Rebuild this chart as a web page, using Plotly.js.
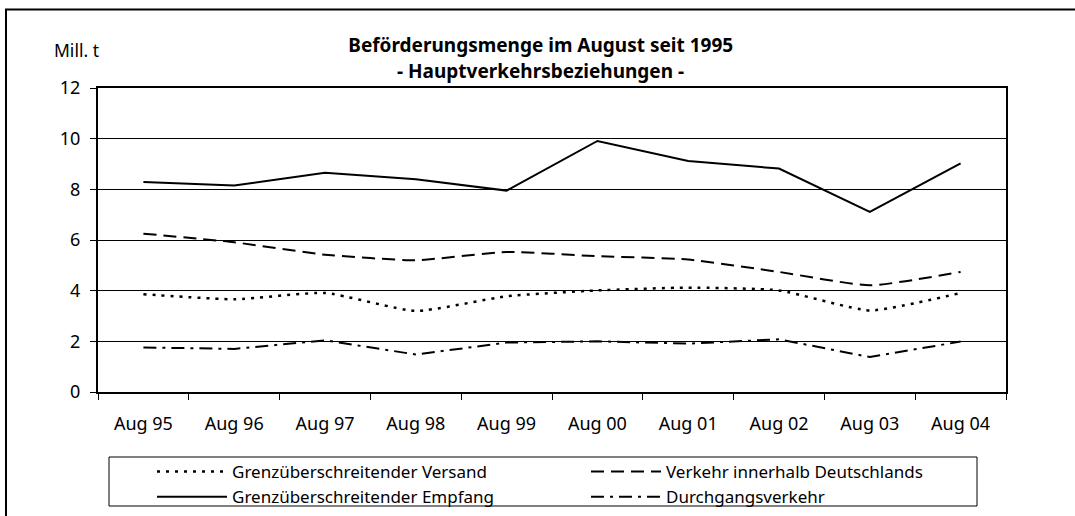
<!DOCTYPE html>
<html>
<head>
<meta charset="utf-8">
<script src="https://cdn.plot.ly/plotly-3.0.1.min.js"></script>
<style>html,body{margin:0;padding:0;background:#fff;}#chart{width:1075px;height:516px;}</style>
</head>
<body>
<div id="chart"></div>
<script>
var categories = ["Aug 95","Aug 96","Aug 97","Aug 98","Aug 99","Aug 00","Aug 01","Aug 02","Aug 03","Aug 04"];
var versand = [3.86, 3.66, 3.91, 3.20, 3.78, 4.01, 4.12, 4.01, 3.22, 3.91];
var innerhalb = [6.25, 5.91, 5.42, 5.20, 5.53, 5.36, 5.23, 4.74, 4.21, 4.74];
var empfang = [8.29, 8.15, 8.65, 8.40, 7.95, 9.91, 9.12, 8.82, 7.11, 9.02];
var durchgang = [1.76, 1.70, 2.04, 1.48, 1.95, 2.00, 1.91, 2.08, 1.38, 1.99];
var seriesNames = ["Grenzüberschreitender Versand","Verkehr innerhalb Deutschlands","Grenzüberschreitender Empfang","Durchgangsverkehr"];
var yTicks = [0, 2, 4, 6, 8, 10, 12];

var FONT = "Noto Sans, Open Sans, sans-serif";

var traces = [
  {x: categories, y: versand, name: seriesNames[0], type: "scatter", mode: "lines",
   line: {color: "#000", width: 2.5, dash: "3px,6px", shape: "spline", smoothing: 0.5}},
  {x: categories, y: innerhalb, name: seriesNames[1], type: "scatter", mode: "lines",
   line: {color: "#000", width: 2, dash: "13px,7px", shape: "spline", smoothing: 0.5}},
  {x: categories, y: empfang, name: seriesNames[2], type: "scatter", mode: "lines",
   line: {color: "#000", width: 2}},
  {x: categories, y: durchgang, name: seriesNames[3], type: "scatter", mode: "lines",
   line: {color: "#000", width: 2, dash: "13px,6px,3px,6px"}}
];

var layout = {
  width: 1075, height: 516,
  paper_bgcolor: "#fff", plot_bgcolor: "#fff",
  margin: {l: 98, r: 69, t: 88, b: 124, autoexpand: false},
  font: {family: FONT, size: 17, color: "#000"},
  title: {text: "<b>Beförderungsmenge im August seit 1995</b>", font: {family: FONT, size: 19, color: "#000"},
          x: 0.503, xref: "container", xanchor: "center", y: 1 - 45/516, yref: "container", yanchor: "middle"},
  xaxis: {type: "category", range: [-0.5, 9.5], tickson: "boundaries", ticks: "outside", ticklen: 6, tickcolor: "#000", tickwidth: 1,
          showline: true, linecolor: "#000", linewidth: 2, mirror: true, showgrid: false, zeroline: false,
          ticklabelstandoff: 14, tickfont: {family: FONT, size: 18, color: "#000"}, fixedrange: true},
  yaxis: {range: [0, 12], tickvals: yTicks, ticktext: yTicks.map(String), ticks: "outside", ticklen: 6, tickcolor: "#000",
          showline: true, linecolor: "#000", linewidth: 2, mirror: true, showgrid: true, gridcolor: "#000", gridwidth: 1,
          zeroline: false, ticklabelstandoff: 6, tickfont: {family: FONT, size: 18, color: "#000"}, fixedrange: true},
  showlegend: true,
  legend: {orientation: "h", x: (152-98)/908, xanchor: "left", y: (392-454)/304, yanchor: "top",
           itemwidth: 70, entrywidth: 349, bgcolor: "rgba(0,0,0,0)", borderwidth: 0,
           font: {family: FONT, size: 17, color: "#000"}, traceorder: "normal"},
  annotations: [
    {text: "<b>- Hauptverkehrsbeziehungen -</b>", xref: "paper", yref: "paper", x: (540-98)/908, y: (392-71)/304,
     xanchor: "center", yanchor: "middle", showarrow: false, font: {family: FONT, size: 19, color: "#000"}},
    {text: "Mill. t", xref: "paper", yref: "paper", x: (52-98)/908, y: (392-50)/304,
     xanchor: "left", yanchor: "middle", showarrow: false, font: {family: FONT, size: 17.5, color: "#000"}}
  ],
  shapes: [
    {type: "rect", xref: "paper", yref: "paper", x0: (6-98)/908, x1: 1.3, y0: -0.7, y1: (392-9.5)/304,
     line: {color: "#000", width: 2}, fillcolor: "rgba(0,0,0,0)", layer: "below"},
    {type: "rect", xref: "paper", yref: "paper", x0: (109-98)/908, x1: (977-98)/908, y0: (392-506)/304, y1: (392-457)/304,
     line: {color: "#000", width: 1}, fillcolor: "rgba(0,0,0,0)", layer: "below"}
  ]
};

Plotly.newPlot("chart", traces, layout, {displayModeBar: false, staticPlot: true});
</script>
</body>
</html>
